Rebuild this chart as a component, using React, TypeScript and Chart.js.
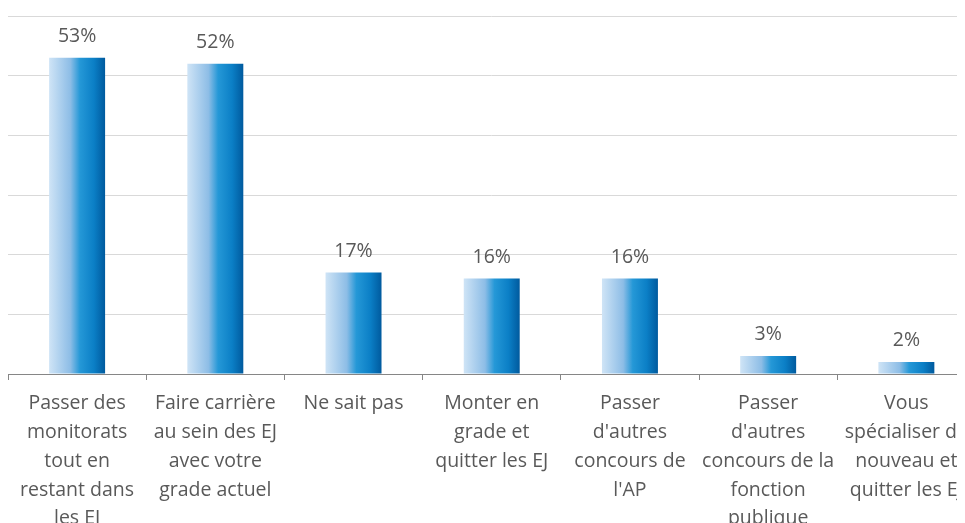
import React, { useEffect, useRef } from "react";
import { Chart, registerables } from "chart.js";

Chart.register(...registerables);

const categories: string[][] = [
  ["Passer des", "monitorats", "tout en", "restant dans", "les EJ"],
  ["Faire carrière", "au sein des EJ", "avec votre", "grade actuel"],
  ["Ne sait pas"],
  ["Monter en", "grade et", "quitter les EJ"],
  ["Passer", "d'autres", "concours de", "l'AP"],
  ["Passer", "d'autres", "concours de la", "fonction", "publique"],
  ["Vous", "spécialiser de", "nouveau et", "quitter les EJ"],
];
const values: number[] = [53, 52, 17, 16, 16, 3, 2];
const valueLabels: string[] = ["53%", "52%", "17%", "16%", "16%", "3%", "2%"];

const FONT = "'Open Sans', sans-serif";
const TEXT = "#595959";
const BAR_PCT = 0.405;

const labelPlugin = {
  id: "valueLabels",
  afterDatasetsDraw(chart: any) {
    const ctx = chart.ctx;
    const meta = chart.getDatasetMeta(0);
    ctx.save();
    ctx.font = `19.5px ${FONT}`;
    ctx.fillStyle = TEXT;
    ctx.textAlign = "center";
    ctx.textBaseline = "alphabetic";
    meta.data.forEach((el: any, i: number) => {
      ctx.fillText(valueLabels[i], el.x, el.y - 16);
    });
    ctx.restore();
  },
};

export default function App() {
  const ref = useRef<HTMLCanvasElement>(null);
  useEffect(() => {
    document.body.style.overflow = "hidden";
    const canvas = ref.current!;
    const chart = new Chart(canvas, {
      type: "bar",
      data: {
        labels: categories,
        datasets: [
          {
            data: values,
            borderWidth: 0,
            backgroundColor: (c: any) => {
              const ch = c.chart;
              const xs = ch.scales?.x;
              if (!xs || !ch.chartArea) return "#1a8fd0";
              const cx = xs.getPixelForValue(c.dataIndex);
              const w = (xs.width / categories.length) * BAR_PCT;
              const g = ch.ctx.createLinearGradient(cx - w / 2, 0, cx + w / 2, 0);
              g.addColorStop(0, "#cfe4f6");
              g.addColorStop(0.38, "#8dbde6");
              g.addColorStop(0.55, "#2598d7");
              g.addColorStop(0.8, "#0b7fc6");
              g.addColorStop(1, "#005a9e");
              return g;
            },
            barPercentage: BAR_PCT,
            categoryPercentage: 1,
          },
        ],
      },
      options: {
        animation: false,
        responsive: false,
        maintainAspectRatio: false,
        layout: { padding: { top: 8, left: 0, right: 0, bottom: 0 } },
        plugins: {
          legend: { display: false },
          tooltip: { enabled: false },
        },
        scales: {
          x: {
            grid: {
              display: true,
              drawOnChartArea: false,
              drawTicks: true,
              tickLength: 6,
              color: "#868686",
              offset: true,
            },
            border: { display: true, color: "#868686", width: 1 },
            ticks: {
              color: TEXT,
              font: { family: FONT, size: 19.5, lineHeight: 1.48 },
              padding: 9,
              maxRotation: 0,
              minRotation: 0,
              autoSkip: false,
            },
            afterFit: (s: any) => {
              s.height = 154;
            },
          },
          y: {
            min: 0,
            max: 60,
            ticks: { display: false, stepSize: 10 },
            grid: { color: "#d9d9d9", drawTicks: false },
            border: { display: false },
            afterFit: (s: any) => {
              s.width = 0;
            },
          },
        },
      },
      plugins: [labelPlugin],
    });
    return () => chart.destroy();
  }, []);
  return (
    <div style={{ width: 969, height: 520 }}>
      <canvas ref={ref} width={969} height={520} style={{ display: "block" }} />
    </div>
  );
}
